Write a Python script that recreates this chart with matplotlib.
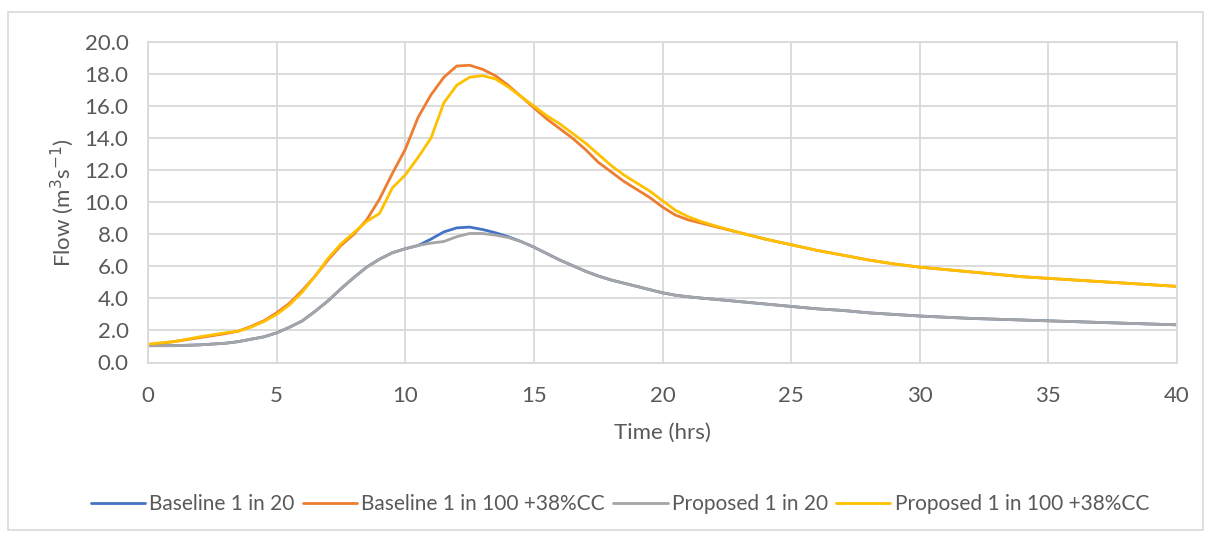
import matplotlib
matplotlib.use("Agg")
import matplotlib.pyplot as plt
from matplotlib.patches import Rectangle

plt.rcParams['font.family'] = ['Lato', 'DejaVu Sans']

# Hydrograph time steps (hours)
t_main = [0, 1, 2, 3, 3.5, 4, 4.5, 5, 5.5, 6, 6.5, 7, 7.5, 8, 8.5, 9, 9.5, 10,
          10.5, 11, 11.5, 12, 12.5, 13, 13.5, 14, 14.5, 15, 15.5, 16, 16.5, 17,
          17.5, 18, 18.5, 19, 19.5, 20, 20.5, 21, 21.5, 22, 23, 24, 25, 26, 27,
          28, 29, 30, 32, 34, 36, 38, 40]

# Flow (m3/s)
baseline_20 = [1.05, 1.05, 1.1, 1.2, 1.3, 1.45, 1.6, 1.85, 2.2, 2.6, 3.2, 3.85,
               4.6, 5.3, 5.95, 6.45, 6.85, 7.1, 7.3, 7.7, 8.15, 8.4, 8.45, 8.3,
               8.1, 7.85, 7.55, 7.2, 6.8, 6.4, 6.05, 5.7, 5.4, 5.15, 4.95, 4.75,
               4.55, 4.35, 4.2, 4.1, 4.02, 3.95, 3.8, 3.65, 3.5, 3.35, 3.25, 3.1,
               3.0, 2.9, 2.75, 2.65, 2.55, 2.45, 2.35]

baseline_100cc = [1.1, 1.3, 1.55, 1.8, 1.95, 2.25, 2.6, 3.1, 3.7, 4.5, 5.4, 6.4,
                  7.3, 8.0, 8.9, 10.2, 11.8, 13.3, 15.3, 16.7, 17.8, 18.5, 18.55,
                  18.3, 17.9, 17.3, 16.6, 15.9, 15.2, 14.6, 14.0, 13.3, 12.5,
                  11.9, 11.3, 10.8, 10.3, 9.7, 9.2, 8.9, 8.7, 8.5, 8.1, 7.7, 7.35,
                  7.0, 6.7, 6.4, 6.15, 5.95, 5.65, 5.35, 5.15, 4.95, 4.75]

proposed_20 = [1.05, 1.05, 1.1, 1.2, 1.3, 1.45, 1.6, 1.85, 2.2, 2.6, 3.2, 3.85,
               4.6, 5.3, 5.95, 6.45, 6.85, 7.1, 7.3, 7.45, 7.55, 7.85, 8.05,
               8.05, 7.95, 7.8, 7.55, 7.2, 6.8, 6.4, 6.05, 5.7, 5.4, 5.15, 4.95,
               4.75, 4.55, 4.35, 4.2, 4.1, 4.02, 3.95, 3.8, 3.65, 3.5, 3.35, 3.25,
               3.1, 3.0, 2.9, 2.75, 2.65, 2.55, 2.45, 2.35]

proposed_100cc = [1.15, 1.3, 1.6, 1.85, 1.95, 2.2, 2.55, 3.0, 3.6, 4.4, 5.4, 6.5,
                  7.4, 8.1, 8.8, 9.3, 10.9, 11.7, 12.8, 14.0, 16.2, 17.3, 17.8,
                  17.9, 17.7, 17.2, 16.6, 16.0, 15.4, 14.9, 14.3, 13.7, 13.0,
                  12.3, 11.7, 11.2, 10.7, 10.1, 9.5, 9.1, 8.8, 8.55, 8.1, 7.7,
                  7.35, 7.0, 6.7, 6.4, 6.15, 5.95, 5.65, 5.35, 5.15, 4.95, 4.75]

series_names = ["Baseline 1 in 20", "Baseline 1 in 100 +38%CC",
                "Proposed 1 in 20", "Proposed 1 in 100 +38%CC"]
series_values = [baseline_20, baseline_100cc, proposed_20, proposed_100cc]
series_colors = ["#4472C4", "#ED7D31", "#A5A5A5", "#FFC000"]

x_ticks = [0, 5, 10, 15, 20, 25, 30, 35, 40]
y_ticks = [0, 2, 4, 6, 8, 10, 12, 14, 16, 18, 20]

fig = plt.figure(figsize=(12.08, 5.37), dpi=100)
fig.patches.append(Rectangle((8 / 1208, 1 - 530 / 537), 1195 / 1208, 518 / 537,
                             transform=fig.transFigure, fill=False,
                             edgecolor="#D9D9D9", linewidth=1.2))

ax = fig.add_axes([148 / 1208, 1 - 362.5 / 537, 1029 / 1208, 320.5 / 537])

for name, vals, col in zip(series_names, series_values, series_colors):
    ax.plot(t_main, vals, color=col, linewidth=2.0, label=name,
            solid_capstyle="round")

ax.set_xlim(0, 40)
ax.set_ylim(0, 20)
ax.set_xticks(x_ticks)
ax.set_yticks(y_ticks)
ax.set_yticklabels([f"{v:.1f}" for v in y_ticks])
ax.grid(True, color="#D9D9D9", linewidth=1.3)
ax.set_axisbelow(True)
for s in ax.spines.values():
    s.set_color("#D9D9D9")
    s.set_linewidth(1.3)
ax.tick_params(length=0, labelsize=16, colors="#595959")
ax.tick_params(axis="x", pad=17)
ax.tick_params(axis="y", pad=14)

ax.set_xlabel("Time (hrs)", fontsize=16, color="#595959", labelpad=12)
ax.set_ylabel("Flow (m$^{3}$s$^{-1}$)", fontsize=16, color="#595959", labelpad=6)

leg = fig.legend(loc="center", bbox_to_anchor=(620 / 1208, 1 - 504 / 537),
                 ncol=4, frameon=False, fontsize=15, handlelength=2.6,
                 handletextpad=0.2, columnspacing=0.4)
for txt in leg.get_texts():
    txt.set_color("#595959")

fig.savefig("out.png", dpi=100)
